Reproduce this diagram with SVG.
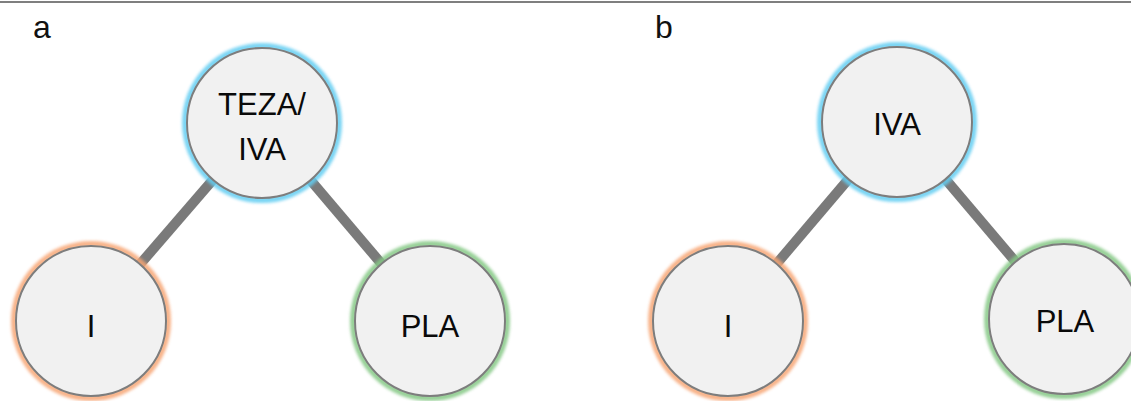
<svg xmlns="http://www.w3.org/2000/svg" width="1131" height="401" viewBox="0 0 1131 401">
  <defs>
    <filter id="soft" x="-20%" y="-20%" width="140%" height="140%">
      <feGaussianBlur stdDeviation="1.8"/>
    </filter>
    <style>
      .edge { stroke: #7a7a7a; stroke-width: 10; stroke-linecap: butt; fill: none; }
      .halo { fill: none; stroke-width: 6; opacity: 0.85; filter: url(#soft); }
      .halo.blue { stroke: #62cdf2; }
      .halo.orange { stroke: #f7a675; }
      .halo.green { stroke: #84c884; }
      .disc { fill: #f1f1f1; stroke: #7d7d7d; stroke-width: 2; }
      .lbl { font-family: "Liberation Sans", Arial, sans-serif; font-size: 31px; fill: #0a0a0a; text-anchor: middle; }
      .panel { font-family: "Liberation Sans", Arial, sans-serif; font-size: 32px; fill: #111; }
    </style>
  </defs>

  <rect x="0" y="0" width="1131" height="401" fill="#ffffff"/>
  <line x1="0" y1="2" x2="1131" y2="2" stroke="#000" stroke-width="1.2"/>

  <text class="panel" x="33" y="38">a</text>
  <text class="panel" x="655" y="38">b</text>

  <!-- connectors, centre to centre, drawn under the discs -->
  <g id="connectors">
    <line class="edge" x1="262" y1="123" x2="91" y2="321"/>
    <line class="edge" x1="262" y1="123" x2="430" y2="321"/>
    <line class="edge" x1="897" y1="122" x2="728" y2="321"/>
    <line class="edge" x1="897" y1="122" x2="1064" y2="319"/>
  </g>

  <!-- panel a -->
  <g id="a-teza-iva">
    <circle class="halo blue" cx="262" cy="123" r="77"/>
    <circle class="disc" cx="262" cy="123" r="75"/>
    <text class="lbl" x="262" y="115">TEZA/</text>
    <text class="lbl" x="262" y="160">IVA</text>
  </g>
  <g id="a-i">
    <circle class="halo orange" cx="91" cy="321" r="77"/>
    <circle class="disc" cx="91" cy="321" r="75"/>
    <text class="lbl" x="91" y="337">I</text>
  </g>
  <g id="a-pla">
    <circle class="halo green" cx="430" cy="321" r="77"/>
    <circle class="disc" cx="430" cy="321" r="75"/>
    <text class="lbl" x="430" y="337">PLA</text>
  </g>

  <!-- panel b -->
  <g id="b-iva">
    <circle class="halo blue" cx="897" cy="122" r="77"/>
    <circle class="disc" cx="897" cy="122" r="75"/>
    <text class="lbl" x="897" y="135">IVA</text>
  </g>
  <g id="b-i">
    <circle class="halo orange" cx="728" cy="321" r="77"/>
    <circle class="disc" cx="728" cy="321" r="75"/>
    <text class="lbl" x="728" y="337">I</text>
  </g>
  <g id="b-pla">
    <circle class="halo green" cx="1064" cy="319" r="77"/>
    <circle class="disc" cx="1064" cy="319" r="75"/>
    <text class="lbl" x="1065" y="332">PLA</text>
  </g>
</svg>
